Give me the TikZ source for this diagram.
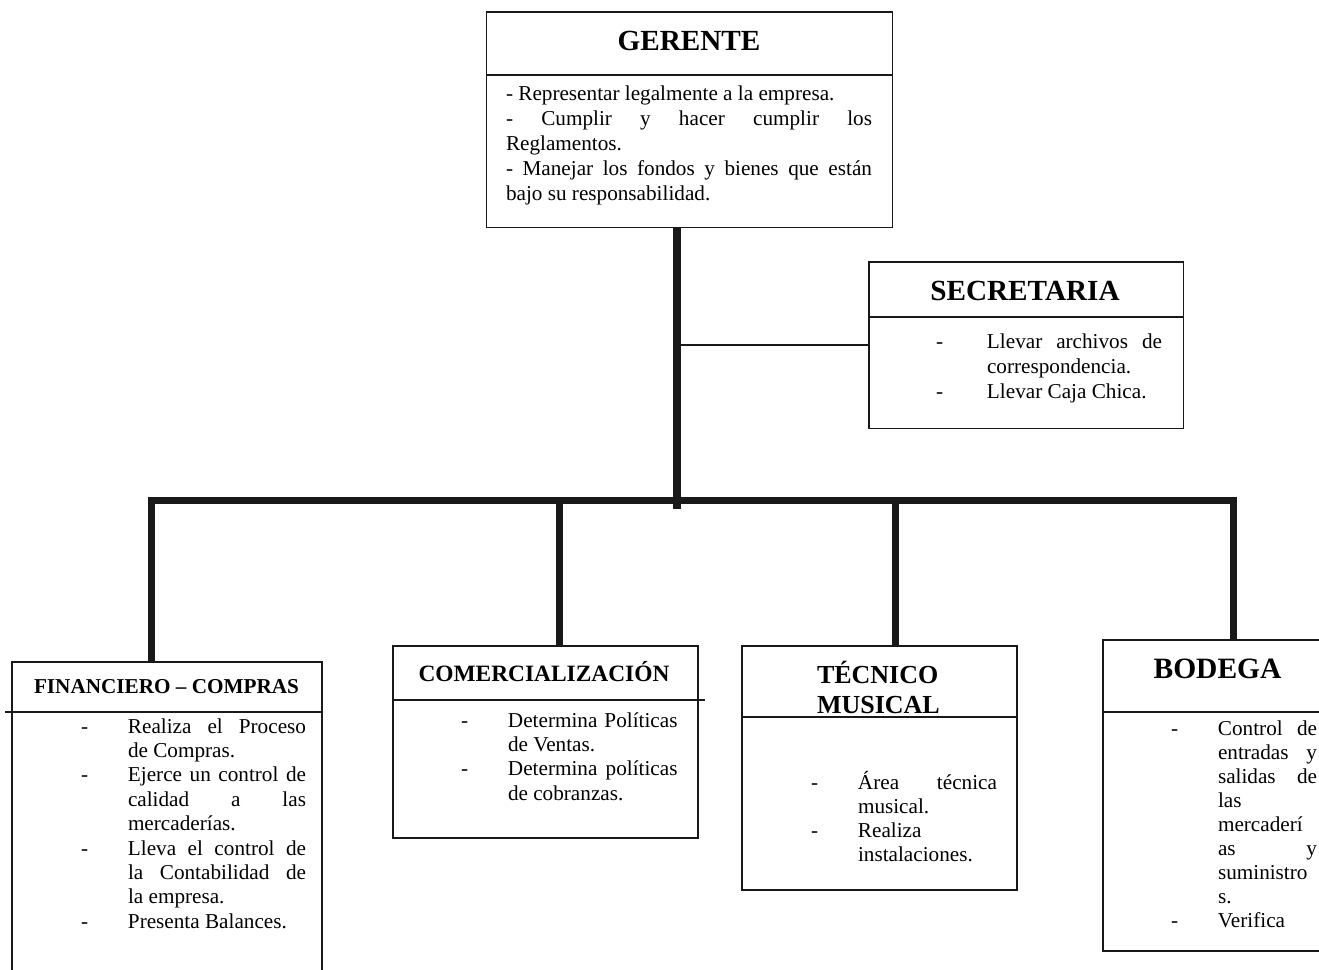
\documentclass[tikz,border=0pt]{standalone}
\usepackage{fontspec}
\setmainfont{Liberation Serif}
\newlength\myhang
\newlength\mytw
\newcommand\bodybox[4]{\setlength\myhang{#1}\setlength\mytw{#2}%
  \parbox[t]{\dimexpr#1+#2\relax}{\fontsize{21.2}{#3}\selectfont\parskip=0pt\relax #4}}
\newcommand\bJ[1]{\noindent\makebox[\myhang][l]{-}\makebox[\mytw][s]{#1}\par}
\newcommand\bL[1]{\noindent\makebox[\myhang][l]{-}\makebox[\mytw][l]{#1}\par}
\newcommand\cJ[1]{\noindent\hspace*{\myhang}\makebox[\mytw][s]{#1}\par}
\newcommand\cL[1]{\noindent\hspace*{\myhang}\makebox[\mytw][l]{#1}\par}
\begin{document}
\begin{tikzpicture}[x=1pt,y=-1pt,
  box/.style={draw=black!90,line width=1.8pt,rectangle,inner sep=0pt,outer sep=0pt},
  divider/.style={draw=black!90,line width=1.8pt},
  txt/.style={anchor=base west,inner sep=0pt,outer sep=0pt},
  ttl/.style={anchor=base,inner sep=0pt,outer sep=0pt,font=\bfseries},
  trunkline/.style={draw=black!90,line width=8pt},
  barline/.style={draw=black!90,line width=7pt,line join=miter},
  thinline/.style={draw=black!90,line width=1.8pt}]
\fill[white] (0,0) rectangle (1319,969);
\useasboundingbox (0,0) rectangle (1319,969);

% boxes
\node[box,minimum width=406pt,minimum height=215.5pt] (ger) at (689.5,119.75) {};
\node[box,minimum width=314.5pt,minimum height=166.5pt] (sec) at (1026.25,345.25) {};
\node[box,minimum width=310pt,minimum height=328pt] (fin) at (167,826) {};
\node[box,minimum width=305pt,minimum height=192pt] (com) at (545.5,742) {};
\node[box,minimum width=275pt,minimum height=244pt] (tec) at (879.5,768) {};
\node[box,minimum width=237pt,minimum height=311pt] (bod) at (1221.5,795.5) {};

% dividers
\draw[divider] (486.5,75) -- (892.5,75);
\draw[divider] (869,317) -- (1183.5,317);
\draw[divider] (5,712) -- (322,712);
\draw[divider] (393,700) -- (705,700);
\draw[divider] (742,717) -- (1017,717);
\draw[divider] (1103,712) -- (1340,712);

% titles
\node[ttl,font=\bfseries\fontsize{29.2}{29}\selectfont] (gert) at (689,50) {GERENTE};
\node[ttl,font=\bfseries\fontsize{29.2}{29}\selectfont] (sect) at (1025,300) {SECRETARIA};
\node[ttl,font=\bfseries\fontsize{21.2}{21}\selectfont] (fint) at (166.5,693) {FINANCIERO – COMPRAS};
\node[ttl,font=\bfseries\fontsize{23.4}{23}\selectfont] (comt) at (544,681) {COMERCIALIZACIÓN};
\node[txt,font=\bfseries\fontsize{26}{26}\selectfont] (tect1) at (817,683) {TÉCNICO};
\node[txt,font=\bfseries\fontsize{26}{26}\selectfont] (tect2) at (817,713) {MUSICAL};
\node[ttl,font=\bfseries\fontsize{29.5}{29}\selectfont] (bodt) at (1217.5,678) {BODEGA};

% bodies
\node[txt] (gerb) at (506,100) {\bodybox{0pt}{366pt}{25pt}{%
  \cL{- Representar legalmente a la empresa.}
  \cJ{- Cumplir y hacer cumplir los}
  \cL{Reglamentos.}
  \cJ{- Manejar los fondos y bienes que están}
  \cL{bajo su responsabilidad.}}};
\node[txt] (secb) at (936,348) {\bodybox{51pt}{175pt}{25pt}{%
  \bJ{Llevar archivos de}
  \cL{correspondencia.}
  \bL{Llevar Caja Chica.}}};
\node[txt] (finb) at (81,733) {\bodybox{47pt}{178pt}{24.4pt}{%
  \bJ{Realiza el Proceso}
  \cL{de Compras.}
  \bJ{Ejerce un control de}
  \cJ{calidad a las}
  \cL{mercaderías.}
  \bJ{Lleva el control de}
  \cJ{la Contabilidad de}
  \cL{la empresa.}
  \bL{Presenta Balances.}}};
\node[txt] (comb) at (461,727) {\bodybox{47pt}{169.5pt}{24.4pt}{%
  \bJ{Determina Políticas}
  \cL{de Ventas.}
  \bJ{Determina políticas}
  \cL{de cobranzas.}}};
\node[txt] (tecb) at (811,789) {\bodybox{47pt}{139pt}{24pt}{%
  \bJ{Área técnica}
  \cL{musical.}
  \bL{Realiza}
  \cL{instalaciones.}}};
\node[txt] (bodb) at (1171,735) {\bodybox{47pt}{99pt}{24.1pt}{%
  \bJ{Control de}
  \cJ{entradas y}
  \cJ{salidas de}
  \cL{las}
  \cL{mercaderí}
  \cJ{as y}
  \cL{suministro}
  \cL{s.}
  \bL{Verifica}}};

% connectors
\coordinate (j0) at (676.5,509);
\coordinate (bl) at (151,500);
\coordinate (br) at (1233.5,500);
\coordinate (b2) at (559.5,500);
\coordinate (b3) at (895.5,500);
\draw[trunkline] (ger.south -| j0) -- (j0);
\draw[thinline] (sec.west -| j0) -- (sec.west);
\draw[barline] (bl |- fin.north) -- (bl) -- (br) -- (br |- bod.north);
\draw[barline] (b2) -- (b2 |- com.north);
\draw[barline] (b3) -- (b3 |- tec.north);
\end{tikzpicture}
\end{document}
